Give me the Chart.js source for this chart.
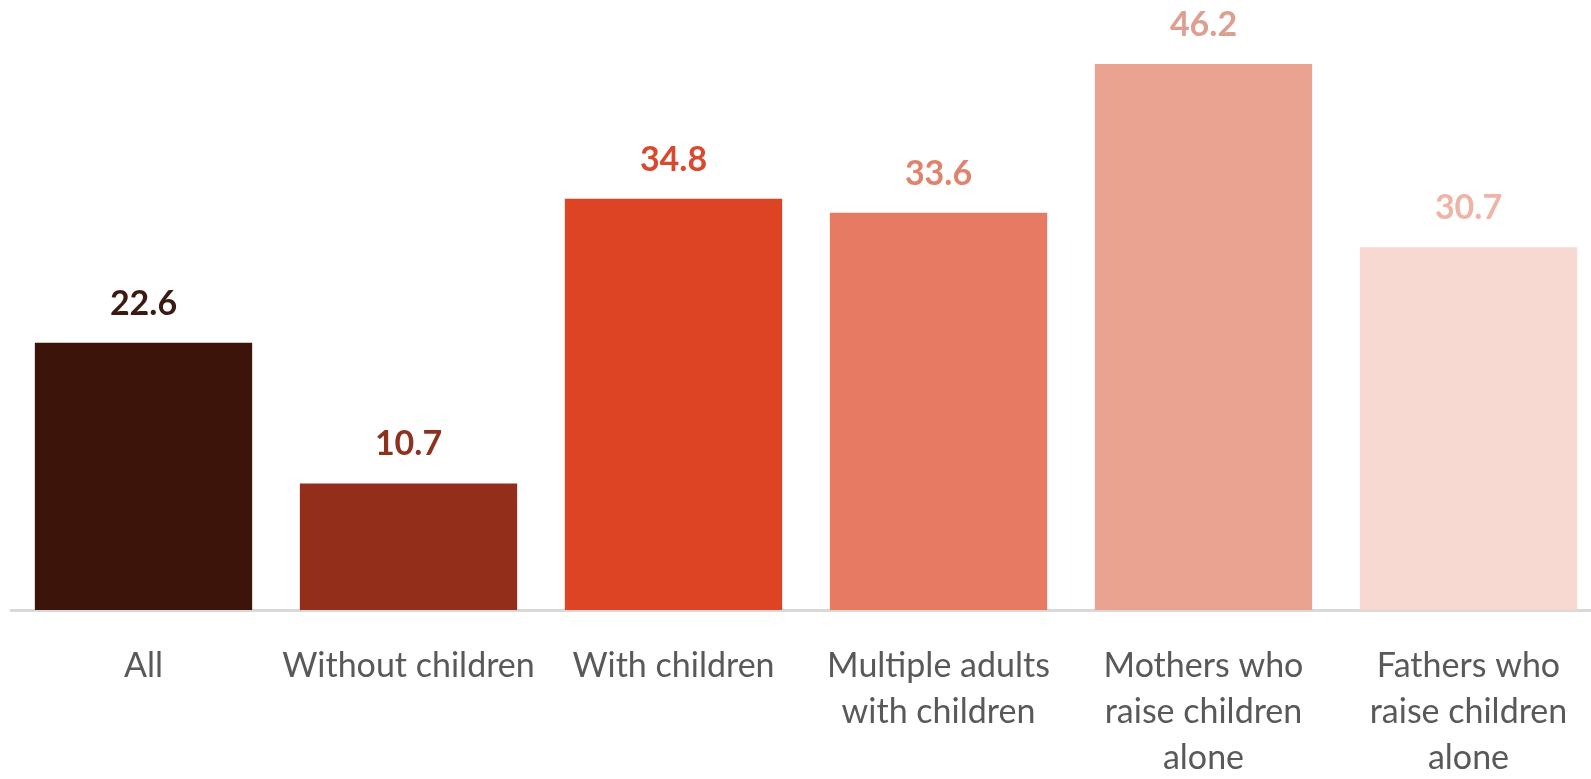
<!DOCTYPE html>
<html>
<head>
<meta charset="utf-8">
<script src="https://cdn.jsdelivr.net/npm/chart.js@4"></script>
<style>
  html, body { margin: 0; padding: 0; overflow: hidden; background: #ffffff; }
  #wrap { position: relative; width: 1601px; height: 779px; }
</style>
</head>
<body>
<div id="wrap"><canvas id="c"></canvas></div>
<script>
const categories = [
  'All',
  'Without children',
  'With children',
  ['Multiple adults', 'with children'],
  ['Mothers who', 'raise children', 'alone'],
  ['Fathers who', 'raise children', 'alone']
];
const values = [22.6, 10.7, 34.8, 33.6, 46.2, 30.7];
const barColors = ['#3c1409', '#922e19', '#dc4423', '#e67a62', '#eba391', '#f8d9d2'];
const labelColors = ['#3a1a12', '#8e3220', '#d9492d', '#e0836e', '#dc9f90', '#efb4a5'];

const valueLabels = {
  id: 'valueLabels',
  afterDatasetsDraw(chart) {
    const ctx = chart.ctx;
    const meta = chart.getDatasetMeta(0);
    ctx.save();
    ctx.font = 'bold 34px Lato, "Open Sans", sans-serif';
    ctx.textAlign = 'center';
    ctx.textBaseline = 'middle';
    meta.data.forEach((bar, i) => {
      ctx.fillStyle = labelColors[i];
      ctx.fillText(values[i].toFixed(1), bar.x, bar.y - 39);
    });
    ctx.restore();
  }
};

new Chart(document.getElementById('c'), {
  type: 'bar',
  data: {
    labels: categories,
    datasets: [{
      data: values,
      backgroundColor: barColors,
      borderWidth: 0,
      categoryPercentage: 0.82,
      barPercentage: 1.0
    }]
  },
  options: {
    responsive: true,
    maintainAspectRatio: false,
    animation: false,
    events: [],
    layout: { padding: { left: 11, right: 0, top: 19, bottom: 0 } },
    plugins: {
      legend: { display: false },
      tooltip: { enabled: false },
      title: { display: false }
    },
    scales: {
      x: {
        grid: { display: false },
        border: { display: true, color: '#d9d9d9', width: 3 },
        ticks: {
          color: '#595959',
          font: { family: 'Lato, "Open Sans", sans-serif', size: 34, lineHeight: 1.35 },
          padding: 25,
          maxRotation: 0,
          autoSkip: false
        },
        afterFit(scale) { scale.height = 169; }
      },
      y: {
        display: false,
        min: 0,
        max: 50
      }
    }
  },
  plugins: [valueLabels]
});
</script>
</body>
</html>
